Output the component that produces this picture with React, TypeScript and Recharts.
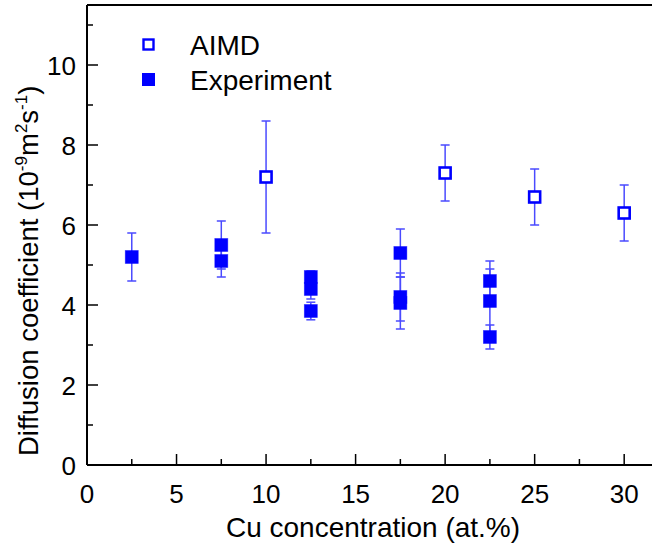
import React from 'react';
import { ScatterChart, Scatter, XAxis, YAxis, ErrorBar, ReferenceLine, Customized } from 'recharts';

const aimdX = [10, 20, 25, 30];
const aimdY = [7.2, 7.3, 6.7, 6.3];
const aimdErr = [1.4, 0.7, 0.7, 0.7];

const expX = [2.5, 7.5, 7.5, 12.5, 12.5, 12.5, 17.5, 17.5, 17.5, 22.5, 22.5, 22.5];
const expY = [5.2, 5.5, 5.1, 4.7, 4.4, 3.85, 5.3, 4.2, 4.05, 4.6, 4.1, 3.2];
const expErr = [0.6, 0.6, 0.4, 0.15, 0.25, 0.22, 0.6, 0.6, 0.65, 0.5, 0.8, 0.3];

const xTicks = [0, 2.5, 5, 7.5, 10, 12.5, 15, 17.5, 20, 22.5, 25, 27.5, 30];
const xMajor = [0, 5, 10, 15, 20, 25, 30];
const yTicks = [0, 1, 2, 3, 4, 5, 6, 7, 8, 9, 10, 11];
const yMajor = [0, 2, 4, 6, 8, 10];

const aimdData = aimdX.map((x, i) => ({ x, y: aimdY[i], err: aimdErr[i] }));
const expData = expX.map((x, i) => ({ x, y: expY[i], err: expErr[i] }));

const FONT = '"Liberation Sans", Arial, sans-serif';
const BLUE = '#0000ff';
const ERR = '#4a4aff';

const XTick = (props: any) => {
  const { x, y, payload } = props;
  const v = payload.value;
  const major = xMajor.includes(v);
  return (
    <g>
      <line x1={x} x2={x} y1={y} y2={y - (major ? 11 : 6)} stroke="#000" strokeWidth={1.5} />
      {major && (
        <text x={x} y={y + 38} textAnchor="middle" fontFamily={FONT} fontSize={26} fill="#000">
          {v}
        </text>
      )}
    </g>
  );
};

const YTick = (props: any) => {
  const { x, y, payload } = props;
  const v = payload.value;
  const major = yMajor.includes(v);
  return (
    <g>
      <line x1={x} x2={x + (major ? 11 : 6)} y1={y} y2={y} stroke="#000" strokeWidth={1.5} />
      {major && (
        <text x={x - 11} y={y + 9.5} textAnchor="end" fontFamily={FONT} fontSize={26} fill="#000">
          {v}
        </text>
      )}
    </g>
  );
};

const FilledSquare = (props: any) => {
  const { cx, cy } = props;
  return <rect x={cx - 6.5} y={cy - 6.5} width={13} height={13} fill={BLUE} stroke={BLUE} strokeWidth={0.8} strokeOpacity={0.5} />;
};

const OpenSquare = (props: any) => {
  const { cx, cy } = props;
  return <rect x={cx - 5.5} y={cy - 5.5} width={11} height={11} fill="#fff" stroke={BLUE} strokeWidth={2.6} />;
};

const Overlay = () => (
  <g fontFamily={FONT} fill="#000">
    <rect x={143.5} y={39.5} width={10} height={10} fill="#fff" stroke={BLUE} strokeWidth={2.4} />
    <text x={190} y={55} fontSize={28}>AIMD</text>
    <rect x={142} y={73} width={13} height={13} fill={BLUE} />
    <text x={190} y={90} fontSize={28}>Experiment</text>
    <text x={373} y={537} textAnchor="middle" fontSize={28}>Cu concentration (at.%)</text>
    <text transform="translate(38,456) rotate(-90)" x={0} y={0} textAnchor="start" fontSize={27.5}>
      Diffusion coefficient (10
      <tspan dy={-11} fontSize={17}>-9</tspan>
      <tspan dy={11}>m</tspan>
      <tspan dy={-11} fontSize={17}>2</tspan>
      <tspan dy={11}>s</tspan>
      <tspan dy={-11} fontSize={17}>-1</tspan>
      <tspan dy={11}>)</tspan>
    </text>
  </g>
);

export default function App() {
  return (
    <div style={{ position: 'absolute', left: 0, top: 0, width: 652, height: 553, overflow: 'hidden', background: '#fff' }}>
      <ScatterChart width={660} height={553} margin={{ top: 5, right: 0, bottom: 0, left: 0 }}>
        <XAxis
          type="number"
          dataKey="x"
          domain={[0, 32]}
          ticks={xTicks}
          tick={<XTick />}
          tickLine={false}
          tickSize={0}
          tickMargin={0}
          height={88}
          axisLine={{ stroke: '#000', strokeWidth: 2 }}
          interval={0}
        />
        <YAxis
          type="number"
          dataKey="y"
          domain={[0, 11.5]}
          ticks={yTicks}
          tick={<YTick />}
          tickLine={false}
          tickSize={0}
          tickMargin={0}
          width={87}
          axisLine={{ stroke: '#000', strokeWidth: 2 }}
          interval={0}
        />
        <ReferenceLine y={11.5} stroke="#000" strokeWidth={2} />
        <Scatter data={aimdData} shape={<OpenSquare />} isAnimationActive={false}>
          <ErrorBar dataKey="err" direction="y" width={4.5} stroke={ERR} strokeWidth={1.5} isAnimationActive={false} />
        </Scatter>
        <Scatter data={expData} shape={<FilledSquare />} isAnimationActive={false}>
          <ErrorBar dataKey="err" direction="y" width={4.5} stroke={ERR} strokeWidth={1.5} isAnimationActive={false} />
        </Scatter>
        <Customized component={Overlay} />
      </ScatterChart>
    </div>
  );
}
